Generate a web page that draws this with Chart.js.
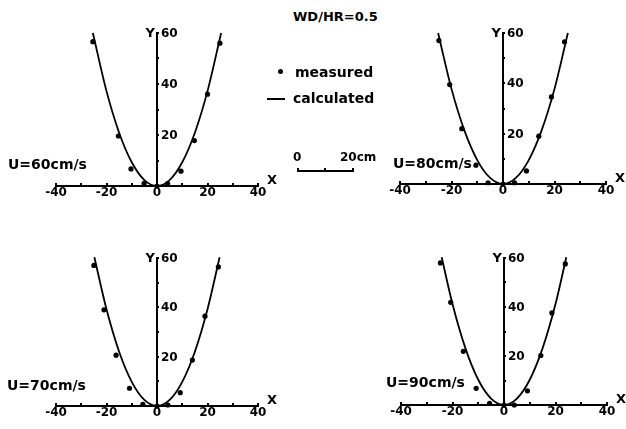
<!DOCTYPE html>
<html>
<head>
<meta charset="utf-8">
<script src="https://cdn.jsdelivr.net/npm/chart.js@4.4.1/dist/chart.umd.min.js"></script>
<style>
  html, body { margin: 0; padding: 0; background: #fff; }
  body { width: 626px; height: 429px; position: relative; overflow: hidden;
         font-family: "DejaVu Sans", sans-serif; font-weight: bold; color: #000; }
  canvas { position: absolute; }
  .txt { position: absolute; white-space: nowrap; line-height: 16px; }
</style>
</head>
<body>
<canvas id="c60"></canvas>
<canvas id="c80"></canvas>
<canvas id="c70"></canvas>
<canvas id="c90"></canvas>

<div class="txt" style="left:293px;top:9px;font-size:13px">WD/HR=0.5</div>
<div style="position:absolute;left:278px;top:69px;width:5px;height:5px;border-radius:50%;background:#000"></div>
<div class="txt" style="left:295px;top:64px;font-size:14px">measured</div>
<div style="position:absolute;left:267px;top:98px;width:18px;height:2px;background:#000"></div>
<div class="txt" style="left:293px;top:90px;font-size:14px">calculated</div>
<div class="txt" style="left:293px;top:149px;font-size:12px">0</div>
<div class="txt" style="left:340px;top:149px;font-size:12px">20cm</div>
<div style="position:absolute;left:297px;top:168px;width:53px;height:2px;border:2px solid #000;border-top:none"></div>
<div style="position:absolute;left:324px;top:168px;width:2px;height:2px;background:#000"></div>

<div class="txt" style="left:8px;top:156px;font-size:14px">U=60cm/s</div>
<div class="txt" style="left:393px;top:155px;font-size:14px">U=80cm/s</div>
<div class="txt" style="left:7px;top:377px;font-size:14px">U=70cm/s</div>
<div class="txt" style="left:386px;top:374px;font-size:14px">U=90cm/s</div>

<script>
// ===== DATA =====
const xTickLabels = ['-40', '', '-20', '', '0', '', '20', '', '40'];
const yTickLabels = ['', '', '20', '', '40', '', '60'];

// U = 60 cm/s
const measX60 = [-25.4, -15.3, -10.3, -5.1, 0, 4.2, 9.5, 14.8, 20, 24.9];
const measY60 = [56.6, 19.6, 6.7, 1.0, 0, 0.9, 5.8, 17.8, 36, 56];
const calcX60 = [-25.4, -20, -15, -10, -5, 0, 5, 10, 15, 20, 25.4];
const calcY60 = [60, 37.2, 20.9, 9.3, 2.3, 0, 2.3, 9.3, 20.9, 37.2, 60];

// U = 80 cm/s
const measX80 = [-24.9, -20.7, -16, -10.5, -5.8, 0, 4.5, 9.1, 13.9, 18.8, 23.9];
const measY80 = [57, 39.5, 22, 7.5, 0.5, 0, 0.5, 5.2, 19, 34.6, 56.5];
const calcX80 = [-25.2, -20, -15, -10, -5, 0, 5, 10, 15, 20, 25.2];
const calcY80 = [60, 37.8, 21.3, 9.5, 2.4, 0, 2.4, 9.5, 21.3, 37.8, 60];

// U = 70 cm/s
const measX70 = [-25, -21, -16.2, -10.9, -5.6, 0, 4.3, 9.2, 14, 19, 24.3];
const measY70 = [57, 39, 20.6, 7.2, 0.7, 0, 0.4, 5.4, 18.6, 36.4, 56.4];
const calcX70 = [-24.8, -20, -15, -10, -5, 0, 5, 10, 15, 20, 24.8];
const calcY70 = [60.3, 39.2, 22, 9.8, 2.45, 0, 2.45, 9.8, 22, 39.2, 60.3];

// U = 90 cm/s
const measX90 = [-24.7, -20.7, -15.8, -10.8, -5.6, 0, 4, 9.1, 14.3, 18.6, 23.8];
const measY90 = [58, 41.9, 21.9, 6.8, 0.7, 0, 0, 5.8, 20.2, 37.6, 57.6];
const calcX90 = [-24.2, -20, -15, -10, -5, 0, 5, 10, 15, 20, 24.2];
const calcY90 = [60.3, 41.2, 23.2, 10.3, 2.6, 0, 2.6, 10.3, 23.2, 41.2, 60.3];

// ===== LAYOUT (page px of the plot box: x=-40..40, y=0..60) =====
const panels = [
  { id: 'c60', L: 56,  R: 258, T: 33,  B: 186, mx: measX60, my: measY60, cx: calcX60, cy: calcY60 },
  { id: 'c80', L: 400, R: 606, T: 33,  B: 184, mx: measX80, my: measY80, cx: calcX80, cy: calcY80 },
  { id: 'c70', L: 56,  R: 258, T: 258, B: 406, mx: measX70, my: measY70, cx: calcX70, cy: calcY70 },
  { id: 'c90', L: 401, R: 607, T: 258, B: 405, mx: measX90, my: measY90, cx: calcX90, cy: calcY90 }
];
const PAD = { left: 20, right: 25, top: 25, bottom: 5 };
const XH = 24; // height of x tick label strip
const FONT = 'DejaVu Sans';

const toPts = (xs, ys) => xs.map((x, i) => ({ x: x, y: ys[i] }));

// y axis labels and the X / Y letters
const axisText = {
  id: 'axisText',
  afterDraw(chart) {
    const ctx = chart.ctx;
    const xs = chart.scales.x, ys = chart.scales.y;
    const x0 = xs.getPixelForValue(0);
    ctx.save();
    ctx.fillStyle = '#000';
    ctx.font = 'bold 12px "' + FONT + '"';
    ctx.textBaseline = 'middle';
    ctx.textAlign = 'left';
    ys.ticks.forEach((t, i) => {
      const lab = yTickLabels[i];
      if (lab) ctx.fillText(lab, x0 + 4, ys.getPixelForValue(t.value) + 1);
    });
    ctx.font = 'bold 13px "' + FONT + '"';
    ctx.textAlign = 'right';
    ctx.fillText('Y', x0 - 2, ys.getPixelForValue(60) + 1);
    ctx.textAlign = 'left';
    ctx.fillText('X', xs.getPixelForValue(40) + 9, ys.getPixelForValue(0) - 5);
    ctx.restore();
  }
};

function makeChart(p) {
  const cv = document.getElementById(p.id);
  cv.width = (p.R - p.L) + PAD.left + PAD.right;
  cv.height = (p.B - p.T) + PAD.top + XH + PAD.bottom;
  cv.style.left = (p.L - PAD.left) + 'px';
  cv.style.top = (p.T - PAD.top) + 'px';

  new Chart(cv.getContext('2d'), {
    type: 'scatter',
    data: {
      datasets: [
        {
          label: 'calculated',
          data: toPts(p.cx, p.cy),
          showLine: true,
          borderColor: '#000',
          borderWidth: 1.8,
          pointRadius: 0,
          cubicInterpolationMode: 'monotone',
          clip: false
        },
        {
          label: 'measured',
          data: toPts(p.mx, p.my),
          showLine: false,
          backgroundColor: '#000',
          borderColor: '#000',
          pointRadius: 2.6,
          pointBorderWidth: 0,
          clip: false
        }
      ]
    },
    options: {
      responsive: false,
      animation: false,
      layout: { padding: PAD },
      plugins: { legend: { display: false }, tooltip: { enabled: false } },
      scales: {
        x: {
          type: 'linear', min: -40, max: 40,
          border: { display: true, color: '#000', width: 2 },
          grid: { drawOnChartArea: false, tickLength: -3, color: '#000', lineWidth: 2 },
          ticks: {
            stepSize: 10, autoSkip: false, maxRotation: 0, padding: 3, color: '#000',
            font: { family: FONT, size: 12, weight: 'bold' },
            callback: (v, i) => xTickLabels[i]
          },
          afterFit: s => { s.height = XH; }
        },
        y: {
          type: 'linear', min: 0, max: 60, position: { x: 0 },
          border: { display: true, color: '#000', width: 2 },
          grid: { drawOnChartArea: false, tickLength: -3, color: '#000', lineWidth: 2 },
          ticks: { display: false, stepSize: 10 },
          afterFit: s => { s.width = 0; }
        }
      }
    },
    plugins: [axisText]
  });
}

panels.forEach(makeChart);
</script>
</body>
</html>
